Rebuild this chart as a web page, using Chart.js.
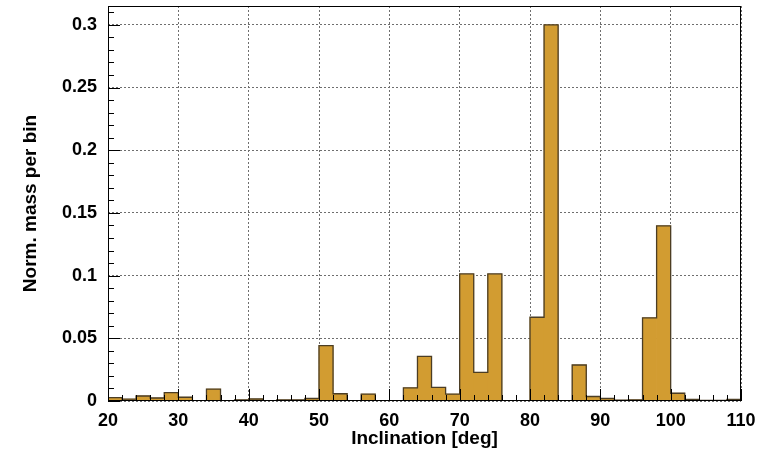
<!DOCTYPE html>
<html>
<head>
<meta charset="utf-8">
<script src="https://cdn.jsdelivr.net/npm/chart.js@4.4.0/dist/chart.umd.min.js"></script>
<style>
  body { margin: 0; background: #fff; }
  #myChart { display: block; }
</style>
</head>
<body>
<canvas id="myChart" width="771" height="452"></canvas>
<script>
// histogram: 2 deg bins from 20 to 110 deg
var binStart = 20;
var binWidth = 2;
var massPerBin = [
    0.0027, 0.0015, 0.0040, 0.0024, 0.0066, 0.0030, 0.0003, 0.0095, 0.0002, 0.0008,
    0.0016, 0.0002, 0.0008, 0.0008, 0.0020, 0.0442, 0.0058, 0.0002, 0.0055, 0.0002,
    0.0002, 0.0105, 0.0356, 0.0108, 0.0055, 0.1013, 0.0229, 0.1013, 0.0002, 0.0002,
    0.0668, 0.3000, 0.0002, 0.0287, 0.0036, 0.0020, 0.0006, 0.0009, 0.0663, 0.1397,
    0.0062, 0.0012, 0.0004, 0.0004, 0.0012
];
var xTicks = [20, 30, 40, 50, 60, 70, 80, 90, 100, 110];
var yTicks = [0, 0.05, 0.1, 0.15, 0.2, 0.25, 0.3];
var yMax = 0.315;

var FONT = "'Liberation Sans', Arial, sans-serif";

// bar centres
var barPoints = massPerBin.map(function (v, i) {
    return {x: binStart + binWidth * (i + 0.5), y: v};
});

// step outline around the histogram
var outline = [{x: binStart, y: 0}];
massPerBin.forEach(function (v, i) {
    outline.push({x: binStart + binWidth * i, y: v});
    outline.push({x: binStart + binWidth * (i + 1), y: v});
});
outline.push({x: binStart + binWidth * massPerBin.length, y: 0});

// ROOT style frame with ticks drawn inside
var frameTicks = {
    id: 'frameTicks',
    afterDatasetsDraw: function (chart) {
        var ctx = chart.ctx;
        var a = chart.chartArea;
        var xs = chart.scales.x, ys = chart.scales.y;
        ctx.save();
        ctx.strokeStyle = '#000';
        ctx.lineWidth = 1;
        ctx.beginPath();
        var i, px, len;
        for (i = 0; i <= (xTicks[xTicks.length - 1] - xTicks[0]) / 2; i++) {
            var xv = xTicks[0] + 2 * i;
            px = Math.round(xs.getPixelForValue(xv)) + 0.5;
            len = (xv % 10 === 0) ? 12 : 6;
            ctx.moveTo(px, a.bottom);
            ctx.lineTo(px, a.bottom - len);
        }
        for (i = 0; i <= 31; i++) {
            px = Math.round(ys.getPixelForValue(i * 0.01)) + 0.5;
            len = (i % 5 === 0) ? 12 : 6;
            ctx.moveTo(a.left, px);
            ctx.lineTo(a.left + len, px);
        }
        ctx.stroke();
        ctx.strokeRect(Math.round(a.left) + 0.5, Math.round(a.top) + 0.5,
            Math.round(a.right - a.left) - 1, Math.round(a.bottom - a.top) - 1);
        ctx.restore();
    }
};

var ctx = document.getElementById('myChart').getContext('2d');

var myChart = new Chart(ctx, {
    type: 'bar',
    data: {
        datasets: [{
            type: 'line',
            data: outline,
            borderColor: '#4b3d24',
            borderWidth: 1.3,
            pointRadius: 0,
            fill: false,
            tension: 0,
            order: 0
        }, {
            data: barPoints,
            backgroundColor: '#d29c31',
            borderWidth: 0,
            barPercentage: 1,
            categoryPercentage: 1,
            order: 1
        }]
    },
    options: {
        responsive: false,
        animation: false,
        layout: {padding: {top: 6, right: 30, left: 0, bottom: 0}},
        plugins: {legend: {display: false}, tooltip: {enabled: false}},
        scales: {
            x: {
                type: 'linear',
                min: xTicks[0],
                max: xTicks[xTicks.length - 1],
                offset: false,
                grid: {offset: false, color: '#6e6e6e', lineWidth: 1, drawTicks: false},
                border: {display: false, dash: [2, 2]},
                afterBuildTicks: function (s) {
                    s.ticks = xTicks.map(function (v) { return {value: v}; });
                },
                ticks: {
                    color: '#000',
                    padding: 9,
                    maxRotation: 0,
                    font: {family: FONT, size: 18, weight: 'bold'},
                    callback: function (v) { return String(v); }
                },
                title: {
                    display: true,
                    text: 'Inclination [deg]',
                    color: '#000',
                    font: {family: FONT, size: 19, weight: 'bold'},
                    padding: {top: 0, bottom: 2}
                },
                afterFit: function (s) {
                    s.height = 51;
                    s.paddingLeft = 0;
                    s.paddingRight = 0;
                }
            },
            y: {
                min: 0,
                max: yMax,
                grid: {color: '#6e6e6e', lineWidth: 1, drawTicks: false},
                border: {display: false, dash: [2, 2]},
                afterBuildTicks: function (s) {
                    s.ticks = yTicks.map(function (v) { return {value: v}; });
                },
                ticks: {
                    color: '#000',
                    padding: 11,
                    font: {family: FONT, size: 18, weight: 'bold'},
                    callback: function (v) { return String(+v.toFixed(3)); }
                },
                title: {
                    display: true,
                    text: 'Norm. mass per bin',
                    color: '#000',
                    font: {family: FONT, size: 19, weight: 'bold'},
                    padding: {top: 19, bottom: 0}
                },
                afterFit: function (s) {
                    s.width = 108;
                    s.paddingTop = 0;
                    s.paddingBottom = 0;
                }
            }
        }
    },
    plugins: [frameTicks]
});
</script>
</body>
</html>
